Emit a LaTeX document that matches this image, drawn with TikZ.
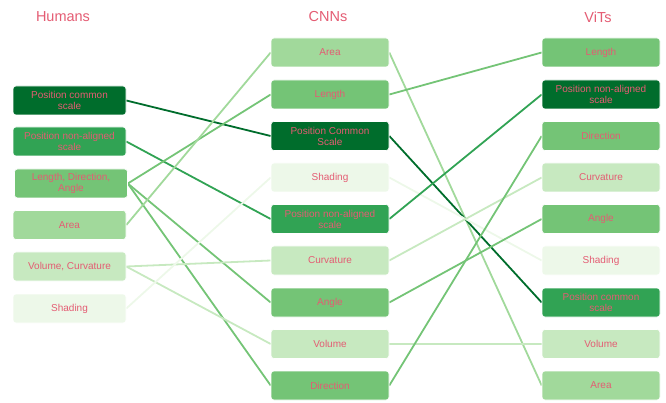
\documentclass[tikz,border=0pt]{standalone}
\usepackage{fontspec}
\setmainfont{Liberation Sans}
\usetikzlibrary{backgrounds}
\definecolor{gA}{HTML}{006D2C}
\definecolor{gB}{HTML}{31A354}
\definecolor{gC}{HTML}{74C476}
\definecolor{gD}{HTML}{A1D99B}
\definecolor{gE}{HTML}{C7E9C0}
\definecolor{gF}{HTML}{EDF8E9}
\definecolor{txt}{HTML}{E45C73}
\tikzset{
  box/.style={rounded corners=3pt, minimum height=29pt, align=center,
    font=\fontsize{10}{11}\selectfont, text=txt, inner sep=0pt, draw=white, line width=0.6pt},
  hbox/.style={box, minimum width=113pt},
  cbox/.style={box, minimum width=118pt},
  ttl/.style={font=\fontsize{14.5}{16}\selectfont, text=txt},
  link/.style={line width=1.8pt}
}
\begin{document}
\begin{tikzpicture}[x=1pt,y=-1pt]
\useasboundingbox (0,0) rectangle (666,403);
% titles
\node[ttl] (tH) at (63,17) {Humans};
\node[ttl] (tC) at (328,17) {CNNs};
\node[ttl] (tV) at (598,17) {ViTs};
% Humans
\node[hbox, fill=gA] (h1) at (69.5,100.5) {Position common\\scale};
\node[hbox, fill=gB] (h2) at (69.5,141.5) {Position non-aligned\\scale};
\node[hbox, fill=gC] (h3) at (71,183.5) {Length, Direction,\\Angle};
\node[hbox, fill=gD] (h4) at (69.5,225) {Area};
\node[hbox, fill=gE] (h5) at (69.5,266.5) {Volume, Curvature};
\node[hbox, fill=gF] (h6) at (69.5,308.5) {Shading};
% CNNs
\node[cbox, fill=gD] (c1) at (330,52.5) {Area};
\node[cbox, fill=gC] (c2) at (330,94.5) {Length};
\node[cbox, fill=gA] (c3) at (330,136) {Position Common\\Scale};
\node[cbox, fill=gF] (c4) at (330,177.5) {Shading};
\node[cbox, fill=gB] (c5) at (330,219) {Position non-aligned\\scale};
\node[cbox, fill=gE] (c6) at (330,260.5) {Curvature};
\node[cbox, fill=gC] (c7) at (330,302.5) {Angle};
\node[cbox, fill=gE] (c8) at (330,344) {Volume};
\node[cbox, fill=gC] (c9) at (330,385.5) {Direction};
% ViTs
\node[cbox, fill=gC] (v1) at (601,52.5) {Length};
\node[cbox, fill=gA] (v2) at (601,94.5) {Position non-aligned\\scale};
\node[cbox, fill=gC] (v3) at (601,136) {Direction};
\node[cbox, fill=gE] (v4) at (601,177.5) {Curvature};
\node[cbox, fill=gC] (v5) at (601,219) {Angle};
\node[cbox, fill=gF] (v6) at (601,260.5) {Shading};
\node[cbox, fill=gB] (v7) at (601,302.5) {Position common\\scale};
\node[cbox, fill=gE] (v8) at (601,344) {Volume};
\node[cbox, fill=gD] (v9) at (601,385.5) {Area};
\begin{scope}[on background layer]
% Humans -> CNNs
\draw[link, gA] (h1.east) -- (c3.west);
\draw[link, gB] (h2.east) -- (c5.west);
\draw[link, gC] (h3.east) -- (c2.west);
\draw[link, gC] (h3.east) -- (c7.west);
\draw[link, gC] (h3.east) -- (c9.west);
\draw[link, gD] (h4.east) -- (c1.west);
\draw[link, gE] (h5.east) -- (c6.west);
\draw[link, gE] (h5.east) -- (c8.west);
\draw[link, gF] (h6.east) -- (c4.west);
% CNNs -> ViTs
\draw[link, gD] (c1.east) -- (v9.west);
\draw[link, gC] (c2.east) -- (v1.west);
\draw[link, gA] (c3.east) -- (v7.west);
\draw[link, gF] (c4.east) -- (v6.west);
\draw[link, gB] (c5.east) -- (v2.west);
\draw[link, gE] (c6.east) -- (v4.west);
\draw[link, gC] (c7.east) -- (v5.west);
\draw[link, gE] (c8.east) -- (v8.west);
\draw[link, gC] (c9.east) -- (v3.west);
\end{scope}
\end{tikzpicture}
\end{document}
